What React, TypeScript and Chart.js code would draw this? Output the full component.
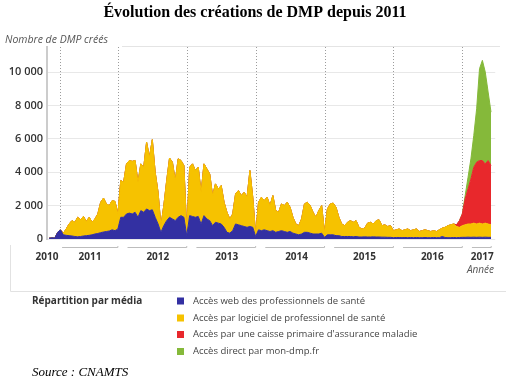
import React, { useEffect, useRef } from "react";
import { Chart, registerables } from "chart.js";

Chart.register(...registerables);

// Half-month periods, starting January 2011
const FIRST_YEAR = 2011;
const PERIODS_PER_YEAR = 24;

// Accès web des professionnels de santé
const webPro = [
  50, 80, 60, 400, 550, 250, 220, 200, 180, 150, 130, 150, 180, 200, 220, 250, 300, 330, 380, 420, 450, 480, 550, 500,
  600, 1300, 1300, 1500, 1550, 1500, 1600, 1300, 1700, 1600, 1800, 1700, 1750, 1300, 900, 400, 800, 1100, 1300, 1200, 1100, 1300, 1400, 1300,
  200, 1400, 1350, 1300, 1350, 900, 1400, 1200, 1100, 800, 1000, 950, 900, 700, 400, 350, 500, 900, 850, 800, 750, 700, 750, 700,
  150, 550, 500, 550, 500, 450, 500, 400, 450, 500, 450, 400, 450, 350, 300, 250, 300, 400, 400, 350, 300, 300, 300, 350,
  100, 250, 250, 250, 200, 200, 150, 150, 150, 150, 130, 150, 120, 120, 130, 120, 120, 130, 120, 120, 110, 110, 100, 100,
  80, 90, 90, 80, 90, 80, 90, 80, 90, 80, 80, 90, 80, 80, 90, 80, 80, 150, 90, 80, 80, 90, 80, 90,
  100, 100, 110, 100, 110, 100, 110, 100, 110, 100, 100,
];

// Accès par logiciel de professionnel de santé
const logicielPro = [
  0, 0, 0, 0, 0, 100, 380, 700, 920, 850, 1170, 1000, 1170, 850, 1080, 750, 900, 1170, 1820, 2030, 1650, 1520, 1750, 1750,
  900, 2200, 2100, 3000, 3150, 3150, 3100, 2100, 2800, 2700, 4000, 3200, 4200, 2700, 1900, 400, 1200, 2400, 3550, 3400, 2400, 3500, 3300, 3100,
  300, 2900, 3150, 2800, 2950, 1900, 3100, 3000, 2800, 1800, 2300, 2050, 2300, 1500, 1200, 850, 1000, 1800, 2050, 1800, 2050, 1800, 3350, 1800,
  150, 1650, 2000, 1750, 2000, 1550, 2100, 1300, 1150, 1600, 1550, 1800, 1450, 950, 600, 550, 900, 1700, 1800, 1650, 1300, 1000, 1400, 1650,
  300, 1550, 1850, 1900, 1700, 1100, 750, 650, 850, 950, 870, 950, 580, 480, 520, 830, 880, 770, 980, 1030, 690, 740, 650, 700,
  420, 460, 510, 420, 460, 520, 410, 470, 510, 370, 420, 460, 420, 370, 410, 370, 470, 500, 610, 720, 770, 810, 670, 610,
  700, 750, 790, 800, 840, 800, 840, 800, 840, 800, 750,
];

// Accès par une caisse primaire d'assurance maladie
const caissePrimaire = [
  0, 0, 0, 0, 0, 0, 0, 0, 0, 0, 0, 0, 0, 0, 0, 0, 0, 0, 0, 0, 0, 0, 0, 0,
  0, 0, 0, 0, 0, 0, 0, 0, 0, 0, 0, 0, 0, 0, 0, 0, 0, 0, 0, 0, 0, 0, 0, 0,
  0, 0, 0, 0, 0, 0, 0, 0, 0, 0, 0, 0, 0, 0, 0, 0, 0, 0, 0, 0, 0, 0, 0, 0,
  0, 0, 0, 0, 0, 0, 0, 0, 0, 0, 0, 0, 0, 0, 0, 0, 0, 0, 0, 0, 0, 0, 0, 0,
  0, 0, 0, 0, 0, 0, 0, 0, 0, 0, 0, 0, 0, 0, 0, 0, 0, 0, 0, 0, 0, 0, 0, 0,
  0, 0, 0, 0, 0, 0, 0, 0, 0, 0, 0, 0, 0, 0, 0, 0, 0, 0, 0, 0, 0, 0, 100, 400,
  700, 1550, 2100, 2700, 3350, 3700, 3750, 3800, 3550, 3800, 3550,
];

// Accès direct par mon-dmp.fr
const monDmp = [
  0, 0, 0, 0, 0, 0, 0, 0, 0, 0, 0, 0, 0, 0, 0, 0, 0, 0, 0, 0, 0, 0, 0, 0,
  0, 0, 0, 0, 0, 0, 0, 0, 0, 0, 0, 0, 0, 0, 0, 0, 0, 0, 0, 0, 0, 0, 0, 0,
  0, 0, 0, 0, 0, 0, 0, 0, 0, 0, 0, 0, 0, 0, 0, 0, 0, 0, 0, 0, 0, 0, 0, 0,
  0, 0, 0, 0, 0, 0, 0, 0, 0, 0, 0, 0, 0, 0, 0, 0, 0, 0, 0, 0, 0, 0, 0, 0,
  0, 0, 0, 0, 0, 0, 0, 0, 0, 0, 0, 0, 0, 0, 0, 0, 0, 0, 0, 0, 0, 0, 0, 0,
  0, 0, 0, 0, 0, 0, 0, 0, 0, 0, 0, 0, 0, 0, 0, 0, 0, 0, 0, 0, 0, 0, 0, 0,
  0, 200, 700, 1200, 1900, 3200, 5500, 6000, 5500, 4100, 3200,
];

const seriesLabels = [
  "Accès web des professionnels de santé",
  "Accès par logiciel de professionnel de santé",
  "Accès par une caisse primaire d'assurance maladie",
  "Accès direct par mon-dmp.fr",
];
const seriesColors = ["#3330a2", "#f6c200", "#e8282c", "#85b93a"];

const yearLabels = ["2010", "2011", "2012", "2013", "2014", "2015", "2016", "2017"];
const yearLabelPositions = [2010.971, 2011.594, 2012.58, 2013.58, 2014.594, 2015.58, 2016.565, 2017.29];
const yearBoundaries = [2011.159, 2012, 2013, 2014, 2015, 2016, 2017];
const yearBrackets = [
  [2011.19, 2012], [2012.14, 2013], [2013.14, 2014], [2014.14, 2015],
  [2015.14, 2016], [2016.14, 2017], [2017.14, 2017.42],
];
const yTickValues = [0, 2000, 4000, 6000, 8000, 10000];
const yTickLabels = ["0", "2 000", "4 000", "6 000", "8 000", "10 000"];

const X_MIN = 2010.971;
const X_MAX = 2017.478;
const Y_MAX = 11500;

const toPoints = (arr: number[]) =>
  arr.map((v, i) => ({ x: FIRST_YEAR + i / PERIODS_PER_YEAR, y: v }));

const SANS = '"Open Sans", "DejaVu Sans", sans-serif';
const SERIF = '"Liberation Serif", "DejaVu Serif", serif';

const decor = {
  id: "decor",
  beforeDatasetsDraw(chart: any) {
    const { ctx, chartArea, scales } = chart;
    const x = scales.x;
    ctx.save();
    ctx.strokeStyle = "#9c9c9c";
    ctx.lineWidth = 1;
    ctx.setLineDash([1, 2]);
    for (const b of yearBoundaries) {
      const px = Math.round(x.getPixelForValue(b)) + 0.5;
      ctx.beginPath();
      ctx.moveTo(px, chartArea.top);
      ctx.lineTo(px, chartArea.bottom);
      ctx.stroke();
    }
    ctx.restore();
  },
  afterDraw(chart: any) {
    const { ctx, scales } = chart;
    const x = scales.x;
    ctx.save();
    // Title
    ctx.fillStyle = "#000";
    ctx.font = `bold 16px ${SERIF}`;
    ctx.textAlign = "center";
    ctx.textBaseline = "alphabetic";
    ctx.fillText("Évolution des créations de DMP depuis 2011", 255, 17);

    // Axis title
    ctx.fillStyle = "#555";
    ctx.font = `italic 10.5px ${SANS}`;
    ctx.textAlign = "left";
    ctx.fillText("Nombre de DMP créés", 5, 43);
    ctx.strokeStyle = "#e4e4e4";
    ctx.lineWidth = 1;
    ctx.beginPath();
    ctx.moveTo(122, 46.5);
    ctx.lineTo(500, 46.5);
    ctx.stroke();

    // Année
    ctx.font = `italic 10px ${SANS}`;
    ctx.textAlign = "right";
    ctx.fillText("Année", 494, 273);

    // Year brackets
    ctx.strokeStyle = "#bdbdbd";
    for (const [a, b] of yearBrackets) {
      const pa = x.getPixelForValue(a);
      const pb = x.getPixelForValue(b);
      ctx.beginPath();
      ctx.moveTo(pa, 247.5);
      ctx.lineTo(pb, 247.5);
      ctx.lineTo(pb, 246);
      ctx.stroke();
    }

    // Frame
    ctx.strokeStyle = "#e2e2e2";
    ctx.beginPath();
    ctx.moveTo(10.5, 245);
    ctx.lineTo(10.5, 291.5);
    ctx.lineTo(506, 291.5);
    ctx.stroke();

    // Legend
    ctx.fillStyle = "#333";
    ctx.font = `bold 10px ${SANS}`;
    ctx.textAlign = "left";
    ctx.textBaseline = "middle";
    ctx.fillText("Répartition par média", 32, 301);
    const rows = [301, 318, 334.5, 351.5];
    ctx.font = `9.5px ${SANS}`;
    seriesLabels.forEach((label, i) => {
      ctx.fillStyle = seriesColors[i];
      ctx.fillRect(177, rows[i] - 3.5, 7, 7);
      ctx.fillStyle = "#444";
      ctx.fillText(label, 193, rows[i]);
    });

    // Source
    ctx.fillStyle = "#000";
    ctx.font = `italic 13px ${SERIF}`;
    ctx.textBaseline = "alphabetic";
    ctx.fillText("Source : CNAMTS", 32, 376);
    ctx.restore();
  },
};

export default function App() {
  const canvasRef = useRef<HTMLCanvasElement | null>(null);

  useEffect(() => {
    if (!canvasRef.current) return;
    const series = [webPro, logicielPro, caissePrimaire, monDmp];
    const chart = new Chart(canvasRef.current, {
      type: "line",
      data: {
        datasets: series.map((arr, i) => ({
          label: seriesLabels[i],
          data: toPoints(arr),
          backgroundColor: seriesColors[i],
          borderColor: seriesColors[i],
          borderWidth: 1,
          fill: i === 0 ? "origin" : "-1",
          pointRadius: 0,
          tension: 0,
        })),
      },
      options: {
        animation: false,
        responsive: false,
        layout: { padding: { top: 47, right: 10, bottom: 113, left: 0 } },
        plugins: { legend: { display: false }, tooltip: { enabled: false }, title: { display: false } },
        scales: {
          x: {
            type: "linear",
            min: X_MIN,
            max: X_MAX,
            grid: { display: false, drawTicks: false },
            border: { display: false },
            afterBuildTicks: (s: any) => {
              s.ticks = yearLabelPositions.map((v) => ({ value: v }));
            },
            afterFit: (s: any) => {
              s.height = 30;
            },
            ticks: {
              autoSkip: false,
              maxRotation: 0,
              padding: 12,
              color: "#333",
              font: { family: SANS, size: 10, weight: "bold" },
              callback: (_v: any, i: number) => yearLabels[i],
            },
          },
          y: {
            stacked: true,
            min: 0,
            max: Y_MAX,
            grid: { color: "#e8e8e8", drawTicks: false },
            border: { color: "#cccccc", width: 2 },
            afterBuildTicks: (s: any) => {
              s.ticks = yTickValues.map((v) => ({ value: v }));
            },
            afterFit: (s: any) => {
              s.width = 47;
            },
            ticks: {
              padding: 4,
              color: "#333",
              font: { family: SANS, size: 11, weight: 600 },
              callback: (_v: any, i: number) => yTickLabels[i],
            },
          },
        },
      },
      plugins: [decor],
    } as any);
    return () => chart.destroy();
  }, []);

  return (
    <div style={{ position: "absolute", left: 0, top: 0, width: 506, height: 382, background: "#fff" }}>
      <canvas ref={canvasRef} width={506} height={382} style={{ width: 506, height: 382, display: "block" }} />
    </div>
  );
}
